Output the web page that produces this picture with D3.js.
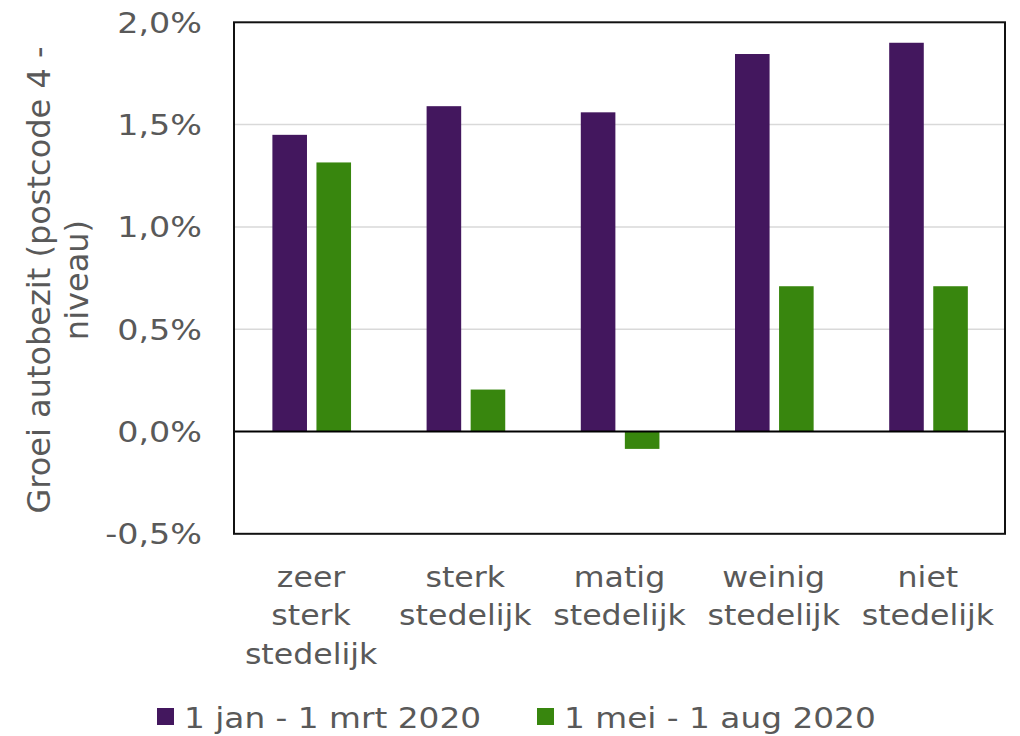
<!DOCTYPE html>
<html>
<head>
<meta charset="utf-8">
<script src="https://cdn.jsdelivr.net/npm/d3@7"></script>
<style>
  html, body { margin: 0; padding: 0; background: #fff; }
  svg { display: block; }
  text { font-family: "DejaVu Sans", Verdana, sans-serif; fill: #595959; }
</style>
</head>
<body>
<svg id="chart" width="1020" height="736"></svg>
<script>
// Stedelijkheidsklassen (multi-line labels)
const categories = [
  ["zeer", "sterk", "stedelijk"],
  ["sterk", "stedelijk"],
  ["matig", "stedelijk"],
  ["weinig", "stedelijk"],
  ["niet", "stedelijk"]
];
const seriesNames = ["1 jan - 1 mrt 2020", "1 mei - 1 aug 2020"];
const seriesColors = ["#43175e", "#38860e"];
// Groei autobezit in procent
const janMrt = [1.45, 1.59, 1.56, 1.845, 1.90];
const meiAug = [1.315, 0.205, -0.085, 0.71, 0.71];
const yTicks = [-0.5, 0, 0.5, 1.0, 1.5, 2.0];

const FONT = 29;

const svg = d3.select("#chart");
const plot = { left: 234, right: 1005, top: 22.3, bottom: 533.8 };

const y = d3.scaleLinear().domain([-0.5, 2.0]).range([plot.bottom, plot.top]);
const catKeys = categories.map((c, i) => i);
const x0 = d3.scaleBand().domain(catKeys).range([plot.left, plot.right]).padding(0);
const bw = x0.bandwidth();
const x1 = d3.scaleBand().domain([0, 1]).range([bw * 0.249, bw * 0.759]).paddingInner(0.215);

const fmt = v => d3.format(".1f")(v).replace(".", ",").replace("−", "-") + "%";

// text with a horizontal widening factor (wide letterforms)
function label(g, x, y0, txt, anchor, sx, size) {
  return g.append("text")
    .attr("transform", `translate(${x},${y0}) scale(${sx},1)`)
    .attr("text-anchor", anchor)
    .style("font-size", (size || FONT) + "px")
    .text(txt);
}

// gridlines
svg.append("g").selectAll("line")
  .data(yTicks.filter(v => v !== 0 && v !== -0.5 && v !== 2.0))
  .join("line")
  .attr("x1", plot.left).attr("x2", plot.right)
  .attr("y1", d => y(d)).attr("y2", d => y(d))
  .attr("stroke", "#d9d9d9").attr("stroke-width", 1.5);

// bars
const data = catKeys.map(i => [janMrt[i], meiAug[i]]);
const groups = svg.append("g").selectAll("g")
  .data(data).join("g")
  .attr("transform", (d, i) => `translate(${x0(i)},0)`);
groups.selectAll("rect")
  .data(d => d.map((v, s) => ({ v, s })))
  .join("rect")
  .attr("x", d => x1(d.s))
  .attr("width", x1.bandwidth())
  .attr("y", d => y(Math.max(0, d.v)))
  .attr("height", d => Math.abs(y(d.v) - y(0)))
  .attr("fill", d => seriesColors[d.s]);

// zero line
svg.append("line")
  .attr("x1", plot.left).attr("x2", plot.right)
  .attr("y1", y(0)).attr("y2", y(0))
  .attr("stroke", "#000").attr("stroke-width", 2);

// plot frame
svg.append("rect")
  .attr("x", plot.left).attr("y", plot.top)
  .attr("width", plot.right - plot.left).attr("height", plot.bottom - plot.top)
  .attr("fill", "none").attr("stroke", "#111").attr("stroke-width", 2);

// y tick labels
const yl = svg.append("g");
yTicks.forEach(v => label(yl, 202, y(v) + 10.5, fmt(v), "end", 1.15));

// category labels
const xl = svg.append("g");
categories.forEach((lines, i) => {
  const cx = x0(i) + bw / 2;
  lines.forEach((ln, k) => label(xl, cx, 587 + k * 38.3, ln, "middle", 1.09));
});

// y axis title (two lines, rotated)
const yt = svg.append("g");
const midY = (plot.top + plot.bottom) / 2 + 2;
[["Groei autobezit (postcode 4 -", 50], ["niveau)", 88]].forEach(([txt, bx]) => {
  yt.append("text")
    .attr("transform", `translate(${bx},${midY}) rotate(-90)`)
    .attr("text-anchor", "middle")
    .style("font-size", "32px")
    .text(txt);
});

// legend
const lg = svg.append("g");
const legendX = [157, 537];
seriesNames.forEach((name, s) => {
  lg.append("rect")
    .attr("x", legendX[s]).attr("y", 708)
    .attr("width", 17).attr("height", 17)
    .attr("fill", seriesColors[s]);
  label(lg, legendX[s] + 27, 728, name, "start", 1.13);
});
</script>
</body>
</html>
